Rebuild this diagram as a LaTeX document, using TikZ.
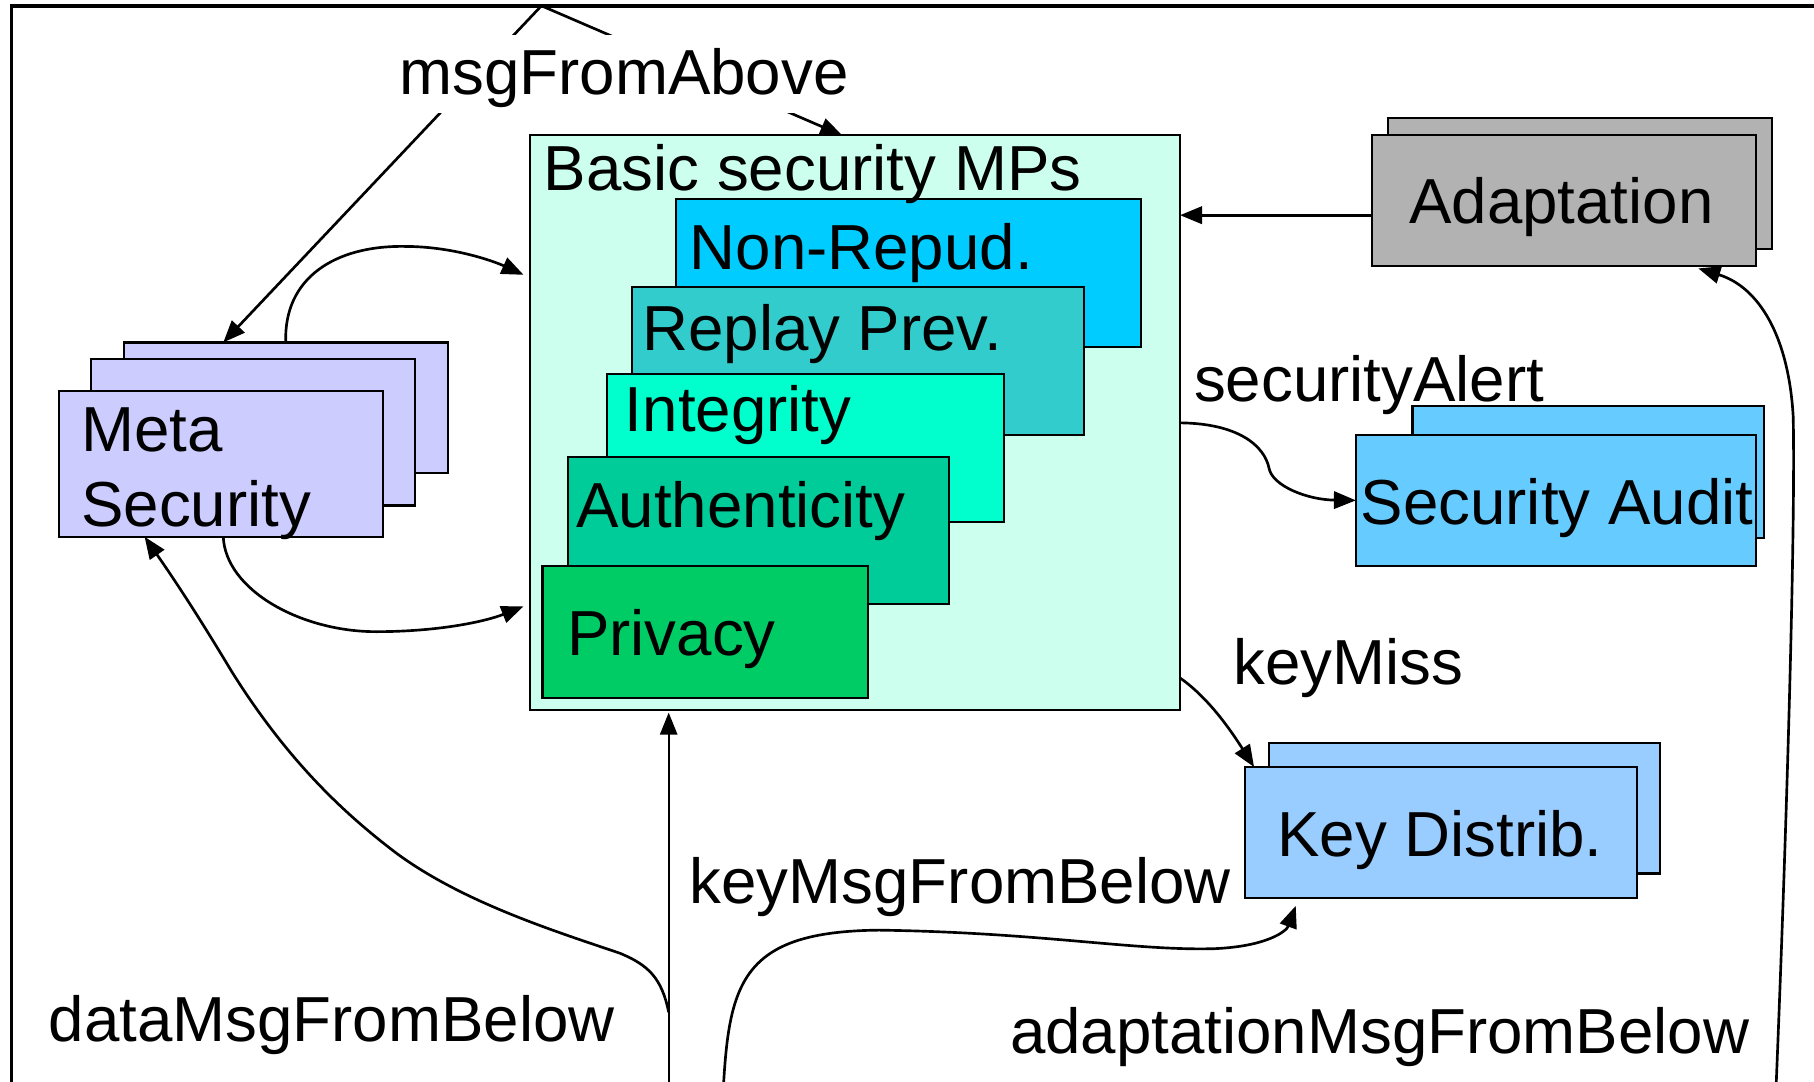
\documentclass[tikz,border=0pt]{standalone}
\usepackage{fontspec}
\setmainfont{Liberation Sans}
\usetikzlibrary{arrows.meta}
\definecolor{basicbg}{RGB}{204,255,238}
\definecolor{nonrepc}{RGB}{0,204,255}
\definecolor{replayc}{RGB}{51,204,204}
\definecolor{integc}{RGB}{0,255,204}
\definecolor{authc}{RGB}{0,204,153}
\definecolor{privc}{RGB}{0,204,102}
\definecolor{metac}{RGB}{204,204,255}
\definecolor{adaptc}{RGB}{178,178,178}
\definecolor{auditc}{RGB}{102,204,255}
\definecolor{keydc}{RGB}{153,204,255}
\begin{document}
\begin{tikzpicture}[x=1pt,y=-1pt,
  box/.style={draw=black, line width=1.9pt, inner sep=0pt, outer sep=0pt, anchor=north west},
  lbl/.style={anchor=base west, inner sep=0pt, font=\fontsize{55}{60}\selectfont},
  conn/.style={line width=2.3pt, -{Triangle[length=19pt,width=15pt]}},
  thinconn/.style={line width=1.5pt, -{Triangle[length=19pt,width=15pt]}},
]
\useasboundingbox (0,0) rectangle (1568,935);
\begin{scope}
\clip (0,0) rectangle (1568,935);
\draw[line width=3pt] (10,1000) -- (10,5) -- (1600,5);
\end{scope}

% Basic security MPs
\node[box, fill=basicbg, minimum width=562pt, minimum height=497pt] (basic) at (458,117) {};
\node[box, fill=nonrepc, minimum width=402pt, minimum height=128pt] (nonrep) at (584,172) {};
\node[box, fill=replayc, minimum width=391pt, minimum height=128pt] (replay) at (546,248) {};
\node[box, fill=integc, minimum width=343pt, minimum height=128pt] (integ) at (525,323) {};
\node[box, fill=authc, minimum width=329pt, minimum height=127pt] (auth) at (491,395) {};
\node[box, fill=privc, minimum width=281pt, minimum height=114pt] (priv) at (469,489) {};
\node[lbl] (basiclbl) at (470,165) {Basic security MPs};
\node[lbl] (nonreplbl) at (596,233) {Non-Repud.};
\node[lbl] (replaylbl) at (555,303) {Replay Prev.};
\node[lbl] (integlbl) at (540,373) {Integrity};
\node[lbl] (authlbl) at (498,456) {Authenticity};
\node[lbl] (privlbl) at (490,567) {Privacy};

% Meta Security
\node[box, fill=metac, minimum width=280pt, minimum height=113pt] (meta3) at (107,296) {};
\node[box, fill=metac, minimum width=280pt, minimum height=127pt] (meta2) at (79,310) {};
\node[box, fill=metac, minimum width=280pt, minimum height=126pt] (meta) at (51,338) {};
\node[lbl] (metalbl1) at (70,390) {Meta};
\node[lbl] (metalbl2) at (70,455) {Security};

% Adaptation
\node[box, fill=adaptc, minimum width=332pt, minimum height=113pt] (adapt2) at (1200,102) {};
\node[box, fill=adaptc, minimum width=332pt, minimum height=113pt] (adapt) at (1186,117) {};
\node[lbl] (adaptlbl) at (1218,193) {Adaptation};

% Security Audit
\node[box, fill=auditc, minimum width=304pt, minimum height=114pt] (audit2) at (1221,351) {};
\node[box, fill=auditc, minimum width=346pt, minimum height=113pt] (audit) at (1172,376) {};
\node[lbl] (auditlbl) at (1176,453) {Security Audit};

% Key Distrib.
\node[box, fill=keydc, minimum width=338pt, minimum height=113pt] (keyd2) at (1097,642) {};
\node[box, fill=keydc, minimum width=339pt, minimum height=113pt] (keyd) at (1076,663) {};
\node[lbl] (keydlbl) at (1104,740) {Key Distrib.};

% msgFromAbove
\coordinate (top) at (468,5);
\draw[conn] (top) -- ([xshift=86pt]meta3.north west);
\draw[conn] (top) -- ([xshift=270pt]basic.north west);
\node[lbl, fill=white, text height=52pt, text depth=16pt] (mfa) at (345,82) {msgFromAbove};

% other labels
\node[lbl] (salbl) at (1032,347) {securityAlert};
\node[lbl] (kmlbl) at (1066,592) {keyMiss};
\node[lbl] (kmblbl) at (596,781) {keyMsgFromBelow};
\node[lbl] (dmblbl) at (42,900) {dataMsgFromBelow};
\node[lbl] (amblbl) at (873,911) {adaptationMsgFromBelow};

% connectors
\draw[conn] ([yshift=-12.5pt]adapt.west) -- ([yshift=-69pt]basic.north east);
\draw[conn] (basic.east) .. controls (1070,366) and (1093,385) .. (1097,405)
  .. controls (1100,420) and (1130,432) .. (audit.west);
\draw[conn] ([yshift=-469pt]basic.north east) .. controls (1040,600) and (1058,622) .. ([xshift=8pt]keyd.north west);

\coordinate (kmbstart) at (625,945);
\draw[conn] (kmbstart) .. controls (630,850) and (640,805) .. (760,804)
  .. controls (900,806) and (980,822) .. (1050,820)
  .. controls (1095,818) and (1112,805) .. ([xshift=44pt,yshift=-7pt]keyd.south west);

\coordinate (ambstart) at (1535,945);
\draw[conn] (ambstart) .. controls (1545,700) and (1552,450) .. (1550,360)
  .. controls (1546,290) and (1520,248) .. ([xshift=282pt,yshift=-2pt]adapt.south west);

\coordinate (dmbstart) at (578,945);
\coordinate (dmbsplit) at (578,875);
\draw[thinconn] (dmbstart) -- ([xshift=120pt,yshift=-2pt]basic.south west);
\draw[conn] (dmbsplit) .. controls (572,845) and (560,834) .. (536,824)
  .. controls (480,805) and (400,780) .. (342,737)
  .. controls (300,705) and (250,660) .. (200,580)
  .. controls (170,530) and (150,500) .. ([xshift=74pt]meta.south west);

\draw[conn, shorten >=6pt] (meta3.north) .. controls (245,240) and (290,212) .. (350,213)
  .. controls (390,213) and (425,225) .. ([yshift=-123pt]basic.north west);
\draw[conn, shorten >=6pt] ([xshift=142pt]meta.south west) .. controls (195,510) and (260,546) .. (325,546)
  .. controls (380,546) and (420,537) .. ([yshift=-405pt]basic.north west);
\end{tikzpicture}
\end{document}
